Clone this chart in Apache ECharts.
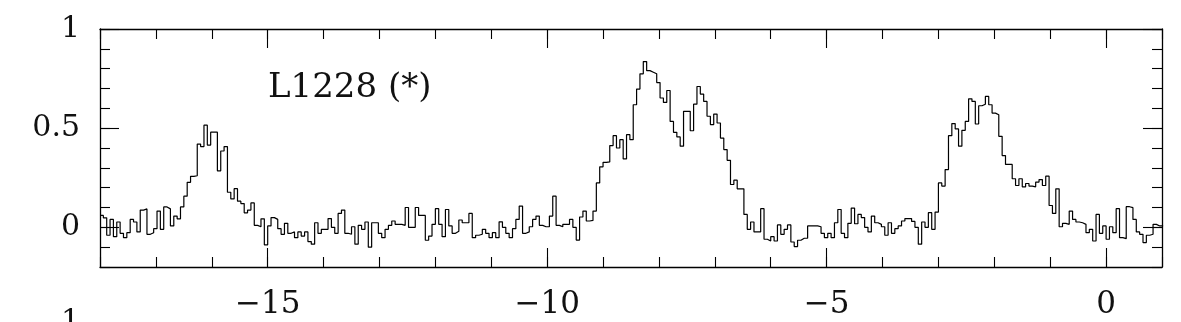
<!DOCTYPE html>
<html><head><meta charset="utf-8">
<script src="https://cdn.jsdelivr.net/npm/echarts@6/dist/echarts.min.js"></script>
<style>html,body{margin:0;padding:0;background:#fff}#c{width:1181px;height:322px}</style>
</head><body><div id="c"></div>
<script>
// Spectrum: velocity axis start and channel width (km/s)
const V_START = -18.0;
const CHANNEL_WIDTH = 0.06;
// Intensity per channel
const intensity = [
  0.06, 0.048, -0.04, 0.04, -0.047, 0.027, -0.03, -0.052, -0.027, 0.04,
  0.027, -0.023, 0.087, 0.093, -0.035, -0.027, -0.007, 0.082, -0.01, 0.103,
  0.093, 0.007, 0.057, 0.043, 0.103, 0.157, 0.227, 0.257, 0.26, 0.42,
  0.407, 0.515, 0.415, 0.48, 0.48, 0.285, 0.385, 0.407, 0.177, 0.143,
  0.195, 0.132, 0.12, 0.073, 0.087, 0.123, 0.01, 0.003, 0.043, -0.088,
  0.007, 0.049, 0.04, -0.007, -0.035, 0.02, -0.03, -0.023, -0.052, -0.023,
  -0.044, -0.023, -0.072, -0.085, 0.023, -0.03, -0.01, -0.01, 0.044, 0.0,
  -0.03, 0.07, 0.087, -0.03, -0.035, 0.003, -0.085, 0.01, -0.01, 0.027,
  -0.1, 0.023, 0.023, -0.03, -0.052, -0.01, 0.01, 0.032, 0.015, 0.015,
  0.01, 0.1, 0.0, 0.0, 0.1, 0.06, 0.06, -0.065, -0.044, 0.015,
  0.094, 0.015, -0.047, 0.09, 0.007, -0.03, -0.02, 0.037, 0.023, 0.023,
  0.07, -0.052, -0.04, -0.035, -0.01, -0.03, -0.052, -0.027, -0.052, 0.028,
  0.0, -0.03, -0.052, -0.007, 0.04, 0.107, -0.03, -0.023, 0.003, 0.04,
  0.057, 0.01, 0.003, 0.003, 0.057, 0.157, 0.01, 0.003, 0.015, 0.015,
  0.04, 0.0, -0.064, 0.052, 0.082, 0.032, 0.035, 0.082, 0.224, 0.305,
  0.328, 0.33, 0.412, 0.462, 0.4, 0.442, 0.345, 0.467, 0.442, 0.618,
  0.697, 0.774, 0.836, 0.79, 0.782, 0.774, 0.73, 0.652, 0.63, 0.69,
  0.534, 0.479, 0.456, 0.409, 0.585, 0.585, 0.487, 0.621, 0.71, 0.672,
  0.635, 0.56, 0.518, 0.571, 0.526, 0.45, 0.392, 0.338, 0.216, 0.238,
  0.194, 0.194, 0.065, -0.01, 0.027, -0.023, -0.023, 0.094, -0.06, -0.069,
  -0.047, -0.069, 0.012, -0.035, -0.01, 0.012, -0.074, -0.097, -0.065, -0.055,
  -0.055, 0.007, 0.007, 0.007, 0.003, -0.03, -0.052, -0.03, -0.052, 0.023,
  0.09, -0.03, -0.052, 0.02, 0.097, 0.018, 0.065, 0.049, 0.0, -0.023,
  0.057, 0.023, 0.015, 0.003, -0.04, 0.023, -0.03, -0.007, 0.007, 0.032,
  0.044, 0.044, 0.03, 0.0, -0.085, 0.027, 0.0, 0.074, -0.01, 0.077,
  0.224, 0.208, 0.291, 0.462, 0.523, 0.496, 0.409, 0.489, 0.534, 0.648,
  0.635, 0.521, 0.613, 0.621, 0.66, 0.618, 0.576, 0.568, 0.459, 0.362,
  0.317, 0.317, 0.245, 0.211, 0.245, 0.204, 0.221, 0.208, 0.204, 0.228,
  0.241, 0.211, 0.258, 0.11, 0.07, 0.194, 0.003, 0.02, 0.015, 0.082,
  0.04, 0.027, 0.023, 0.015, -0.027, -0.01, -0.069, 0.065, -0.03, 0.007,
  -0.06, 0.003, -0.027, 0.094, -0.052, -0.057, 0.104, 0.099, 0.04, -0.023,
  -0.035, -0.077, -0.04, -0.035, 0.015, 0.007, 0.007
];
const X_MIN = -18, X_MAX = 1;
const Y_MIN = -0.2, Y_MAX = 1;
const xMajorTicks = [-15, -10, -5, 0];
const yMajorTicks = [0, 0.5, 1];
const sourceLabel = 'L1228 (*)';
const nextPanelLabel = '1';

const FONT = 'DejaVu Serif';
const points = intensity.map((v, i) => [V_START + i * CHANNEL_WIDTH, v]);
points.push([V_START + intensity.length * CHANNEL_WIDTH, intensity[intensity.length - 1]]);

const fmtX = v => {
  const r = Math.round(v);
  if (Math.abs(v - r) > 1e-6 || r % 5 !== 0) return '';
  return r < 0 ? '\u2212' + Math.abs(r) : String(r);
};
const fmtY = v => {
  const h = Math.round(v * 2) / 2;
  if (Math.abs(v - h) > 1e-6) return '';
  return String(h);
};
const lineCol = '#000';
function xAx(pos, major, labels) {
  const base = {
    type: 'value', position: pos, min: X_MIN, max: X_MAX,
    splitLine: { show: false },
    axisLine: { show: !major, onZero: false, lineStyle: { color: lineCol, width: 1.3 } },
    axisTick: { show: true, inside: true, length: major ? 19 : 10, lineStyle: { color: lineCol, width: 1.1 } },
    axisLabel: { show: labels, formatter: fmtX, fontFamily: FONT, fontSize: 31, color: '#111', margin: 22, hideOverlap: false, showMinLabel: true, showMaxLabel: true }
  };
  if (major) { base.axisTick.customValues = xMajorTicks; base.axisLabel.show = false; }
  else base.interval = 1;
  return base;
}
function yAx(pos, major, labels) {
  const base = {
    type: 'value', position: pos, min: Y_MIN, max: Y_MAX,
    splitLine: { show: false },
    axisLine: { show: !major, onZero: false, lineStyle: { color: lineCol, width: 1.3 } },
    axisTick: { show: true, inside: true, length: major ? 19 : 10, lineStyle: { color: lineCol, width: 1.1 } },
    axisLabel: { show: labels, formatter: fmtY, fontFamily: FONT, fontSize: 30, color: '#111', margin: 20, showMinLabel: true, showMaxLabel: true }
  };
  if (major) { base.axisTick.customValues = yMajorTicks; base.axisLabel.show = false; }
  else base.interval = 0.1;
  return base;
}
const chart = echarts.init(document.getElementById('c'), null, { renderer: 'canvas' });
chart.setOption({
  animation: false,
  backgroundColor: '#fff',
  grid: { left: 100, right: 19, top: 29, bottom: 55, containLabel: false },
  xAxis: [xAx('bottom', false, true), xAx('bottom', true, false), xAx('top', false, false), xAx('top', true, false)],
  yAxis: [yAx('left', false, true), yAx('left', true, false), yAx('right', false, false), yAx('right', true, false)],
  series: [{
    type: 'line', xAxisIndex: 0, yAxisIndex: 0, step: 'end', data: points,
    showSymbol: false, silent: true, clip: true,
    lineStyle: { color: '#000', width: 1.2 }
  }],
  graphic: [
    { type: 'text', left: 268, top: 71, style: { text: sourceLabel, font: '34px "' + FONT + '"', fill: '#111' } },
    { type: 'text', right: 1101, top: 307, style: { text: nextPanelLabel, font: '30px "' + FONT + '"', fill: '#111' } }
  ]
});
</script></body></html>
